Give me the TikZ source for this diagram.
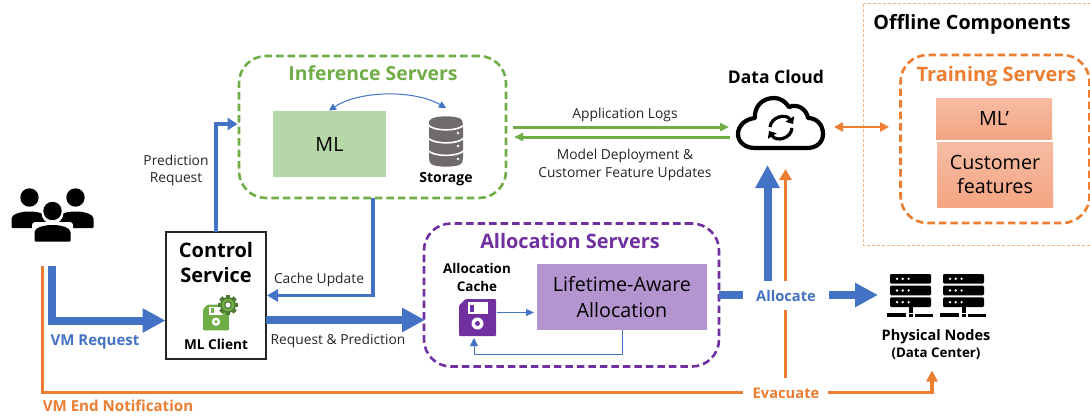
\documentclass[tikz,border=0pt]{standalone}
\usepackage{fontspec}
\setmainfont{Open Sans}
\usetikzlibrary{arrows.meta,calc}
\definecolor{cblue}{HTML}{4472C4}
\definecolor{corange}{HTML}{ED7D31}
\definecolor{cgreen}{HTML}{70AD47}
\definecolor{cpurple}{HTML}{7030A0}
\definecolor{mlfill}{HTML}{B6D7A8}
\definecolor{lifefill}{HTML}{B495CF}
\definecolor{offl}{HTML}{F4B183}
\definecolor{stor}{HTML}{6F6B6B}
\definecolor{trtop}{HTML}{F6BCA3}
\definecolor{trbot}{HTML}{F4A582}
\newcommand{\fs}[1]{\fontsize{#1}{#1}\selectfont}
\tikzset{
  x=1pt,y=-1pt,
  txt/.style={inner sep=0pt,align=center,text=black},
  lab/.style={txt,font=\fs{13.8}\selectfont,text=black!85},
  solidbox/.style={inner sep=0pt,outer sep=0pt,align=center,font=\fs{19.7}},
  trainbox/.style={solidbox,top color=trtop,bottom color=trbot},
  group/.style={inner sep=0pt,outer sep=0pt,draw=#1,line width=2.6pt,dash pattern=on 7.5pt off 4pt,rounded corners=27pt},
  fat/.style={draw=cblue,line width=8pt,-{Triangle[length=23pt,width=23pt]}},
  fatplain/.style={draw=cblue,line width=8pt},
  midb/.style={draw=cblue,line width=4pt,-{Triangle[length=10pt,width=12pt]}},
  orangeline/.style={draw=corange,line width=3.6pt},
  greenline/.style={draw=cgreen,line width=3pt,-{Triangle[length=9pt,width=8pt]}},
  thinb/.style={draw=cblue,line width=1pt},
  floppy/.pic={
    \fill[#1,rounded corners=1pt] (-18.5,-12) -- (-12,-18.5) -- (18.5,-18.5) -- (18.5,18.5) -- (-18.5,18.5) -- cycle;
    \fill[white] (-10,-15.5) rectangle (10,-3.5);
    \fill[#1] (-7.5,-13) rectangle (-3.5,-6);
    \fill[white] (0,6) circle (6);
    \fill[#1] (0,6) circle (2.5);
  },
  person/.pic={
    \fill[black] (0,-14) circle (9.2);
    \fill[black,rounded corners=1pt] (-18,16.5) -- (-18,8) .. controls (-18,3) and (-9,0) .. (0,0) .. controls (9,0) and (18,3) .. (18,8) -- (18,16.5) -- cycle;
  },
  rack/.pic={
    \foreach \yy in {0,11.7,23.4}{
      \fill[black,rounded corners=1.2pt] (0,\yy) rectangle (41,\yy+9.6);
      \foreach \xx in {7,12.7,18.6} \fill[white] (\xx,\yy+4.8) circle (1.3);
    }
    \fill[black] (18.5,33) rectangle (22.5,39);
    \fill[black] (-3,39) rectangle (16,43);
    \fill[black] (18.5,39.5) rectangle (22.5,43);
    \fill[black] (25,40) rectangle (43,43);
  },
}
\begin{document}
\begin{tikzpicture}
\useasboundingbox (0,0) rectangle (1090,416);
\fill[white] (0,0) rectangle (1090,416);

% Offline box
\draw[draw=offl,line width=.8pt,densely dashed] (863.5,3.5) rectangle (1093,245);
\node[txt,font=\fs{19.7}\bfseries] (offT) at (972,24) {Offline Components};

% group boxes
\node[group=cgreen,minimum width=267pt,minimum height=142pt] (infer) at (372.5,127) {};
\node[group=cpurple,minimum width=295pt,minimum height=143pt] (alloc) at (571.5,295) {};
\node[group=corange,minimum width=189pt,minimum height=168pt] (train) at (995,139) {};
\node[txt,font=\fs{19.4}\bfseries,text=cgreen] (inferT) at (373,73) {Inference Servers};
\node[txt,font=\fs{19.9}\bfseries,text=cpurple] (allocT) at (570,241) {Allocation Servers};
\node[txt,font=\fs{19.9}\bfseries,text=corange] (trainT) at (996.5,76) {Training Servers};

% inner boxes
\node[solidbox,fill=mlfill,minimum width=113pt,minimum height=66pt] (ml) at (329.5,144) {ML};
\node[solidbox,fill=lifefill,minimum width=170pt,minimum height=66pt] (life) at (622,297) {Lifetime-Aware\\[5.5pt]Allocation};
\node[trainbox,minimum width=116pt,minimum height=41pt] (mlp) at (994,118.5) {\raisebox{-1pt}{ML’}};
\node[trainbox,minimum width=116pt,minimum height=65pt] (cf) at (995,174.5) {\raisebox{-1pt}{Customer}\\[5pt]\raisebox{-1pt}{features}};

% control service
\node[inner sep=0pt,outer sep=0pt,draw=black!85,line width=1.5pt,fill=white,minimum width=100pt,minimum height=127pt] (ctrl) at (216,295.5) {};
\node[txt,font=\fs{20}\bfseries] (ctrlT) at (216,262.5) {Control\\[5pt]Service};
\node[txt,font=\fs{13.6}\bfseries] (mlc) at (216,344.5) {ML Client};
\pic[scale=.7] at (216,317.5) {floppy=cgreen};
\foreach \a in {0,45,...,315}{
  \fill[cgreen!70!black,rotate around={\a:(228,305)}] (225.9,295) rectangle (230.1,315);
}
\fill[cgreen!70!black] (228,305) circle (8);
\fill[cgreen] (228,305) circle (6.4);
\fill[cgreen!60!black] (228,305) circle (3.8);
\fill[white] (228,305) circle (2.6);

% users
\pic at (29.5,211.5) {person};
\pic at (75.5,211.5) {person};
\fill[white] (52.5,213) circle (11);
\fill[white,rounded corners=3pt] (32,222) rectangle (73,244);
\pic at (52.5,225) {person};
\coordinate (usersB) at (52,266);
\coordinate (usersO) at (42.5,266);
\coordinate (ctrlIn) at (165.5,320.5);
\coordinate (ctrlOut) at (266,320);
\coordinate (allocIn) at (425,320);

% storage icon
\fill[stor,rounded corners=3pt] (429,123) -- (429,160) .. controls (432,168) and (460,168) .. (463,160) -- (463,123) .. controls (460,115) and (432,115) .. (429,123) -- cycle;
\foreach \yy in {125,138,150.5}{
  \draw[white,line width=1.6pt] (428,\yy) .. controls (434,\yy+6.5) and (458,\yy+6.5) .. (464,\yy);
}
\foreach \yy in {133,146,159} \fill[white] (458,\yy) circle (1.3);
\node[txt,font=\fs{14}\bfseries] (storT) at (446,179.5) {Storage};
\coordinate (storTop) at (446,108);
\coordinate (mlTop) at (329,110.5);
\draw[thinb,{Triangle[length=7pt,width=7pt]}-{Triangle[length=7pt,width=7pt]}] (mlTop) .. controls (360,90) and (415,90) .. (storTop);

% allocation cache
\node[txt,font=\fs{13.4}\bfseries] (acT) at (477,277.5) {Allocation\\[4pt]Cache};
\pic at (477.5,317.5) {floppy=cpurple};
\coordinate (cacheR) at (497,312.5);
\coordinate (lifeL) at (534,312.5);
\coordinate (cacheB) at (474,338);
\coordinate (lifeB) at (622,330);
\draw[thinb,-{Triangle[length=8pt,width=7pt]}] (cacheR) -- (lifeL);
\draw[thinb,-{Triangle[length=8pt,width=8pt]}] (lifeB) -- (622,354) -| (cacheB);

% cloud
\node[txt,font=\fs{17.5}\bfseries] (dcT) at (776,77) {Data Cloud};
\coordinate (cloudS) at (767.5,165);
\coordinate (cloudSo) at (785.5,169);
\coordinate (cloudE) at (834,127);
\coordinate (cloudW) at (729,127);
\coordinate (cloudW2) at (730,137);
\draw[black,line width=4.2pt,line join=round,fill=white] (755,148) -- (807,148) .. controls (817,148) and (823,142) .. (823,134) .. controls (823,124) and (816,118) .. (808,118) .. controls (807,110) and (798,103) .. (789,107) .. controls (785,101) and (780,98) .. (774,98) .. controls (762,98) and (754,107) .. (755,118) .. controls (745,119) and (738,126) .. (738,134) .. controls (738,142) and (745,148) .. (755,148) -- cycle;
\draw[black,line width=3.2pt,-{Triangle[length=6pt,width=10pt]}] (770,127) .. controls (771,117) and (786,113) .. (793,124);
\draw[black,line width=3.2pt,-{Triangle[length=6pt,width=10pt]}] (792,128) .. controls (791,139) and (776,142) .. (769,131);

% physical nodes
\pic at (890,274) {rack};
\pic at (943,274) {rack};
\node[txt,font=\fs{14.5}\bfseries] (pnT) at (936,337) {Physical Nodes};
\node[txt,font=\fs{13.3}\bfseries] (pnS) at (936,354) {(Data Center)};
\coordinate (pnW) at (878,295);
\coordinate (pnS2) at (932,370.5);

% connectors
\draw[fat] (usersB) |- (ctrlIn);
\draw[fat] (ctrlOut) -- (allocIn);
\coordinate (inferIn) at (237.5,124);
\draw[midb] (ctrl.north) |- (inferIn);
\coordinate (inferB) at (373,198);
\coordinate (ctrlR) at (267,295.5);
\draw[draw=cblue,line width=3.5pt,-{Triangle[length=11pt,width=12pt]}] (inferB) |- (ctrlR);
\coordinate (inferE) at (513,127);
\coordinate (inferE2) at (514,137);
\draw[greenline] (inferE) -- (cloudW);
\draw[greenline] (cloudW2) -- (inferE2);
\draw[orangeline,{Triangle[length=9pt,width=9pt]}-{Triangle[length=9pt,width=9pt]},line width=2.4pt] (cloudE) -- (889,127);

% allocate
\node[txt,font=\fs{14.7}\bfseries,text=cblue] (allocate) at (786,296) {Allocate};
\coordinate (allocStub) at (743,295);
\coordinate (allocRes) at (829,295);
\draw[fatplain] (alloc.east) -- (allocStub);
\draw[fat] (allocRes) -- (pnW);
\draw[draw=cblue,line width=8pt,-{Triangle[length=23pt,width=23pt]}] (767.5,281) -- (cloudS);
\draw[orangeline,-{Triangle[length=11pt,width=12pt]}] (785.5,281) -- (cloudSo);
\draw[orangeline] (785.5,310) -- (785.5,378);

% evacuate
\node[txt,font=\fs{14.7}\bfseries,text=corange] (evac) at (786,393) {Evacuate};
\draw[orangeline,line join=miter] (usersO) |- (743,392.5);
\draw[orangeline,-{Triangle[length=11pt,width=11pt]}] (828,392.5) -| (pnS2);

% labels
\node[txt,font=\fs{15}\bfseries,text=cblue] (vmr) at (95,341.5) {VM Request};
\node[txt,font=\fs{15.1}\bfseries,text=corange] (vme) at (118,405.5) {VM End Notification};
\node[lab] (pred) at (176,170.5) {Prediction\\[4pt]Request};
\node[lab] (cu) at (319,280) {Cache Update};
\node[lab] (rp) at (338,341) {Request \& Prediction};
\node[lab] (al) at (625,115) {Application Logs};
\node[lab] (md) at (625,165) {Model Deployment \&\\[3.5pt]Customer Feature Updates};
\end{tikzpicture}
\end{document}
